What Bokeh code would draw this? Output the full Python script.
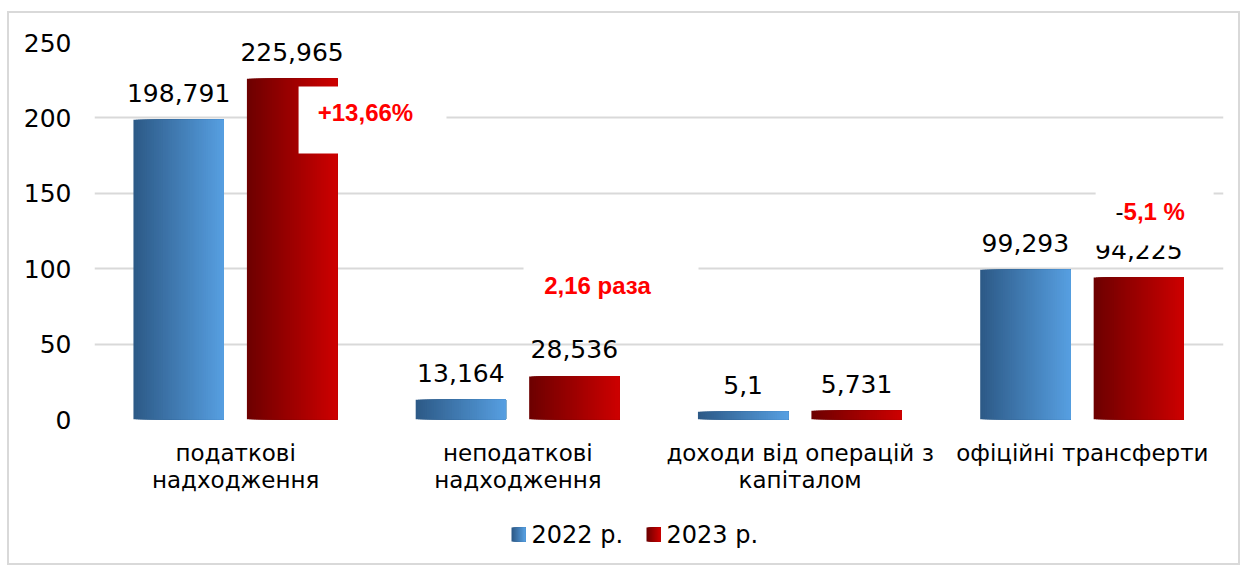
import numpy as np
from bokeh.plotting import figure
from bokeh.layouts import column
from bokeh.models import (ColumnDataSource, FixedTicker, Label, BoxAnnotation, Range1d)
from bokeh.embed import file_html
from bokeh.resources import INLINE
from bokeh.core.properties import value

# ---------------- data ----------------
categories = ["податкові\nнадходження", "неподаткові\nнадходження",
              "доходи від операцій з\nкапіталом", "офіційні трансферти"]
series_names = ["2022 р.", "2023 р."]
values_2022 = [198.791, 13.164, 5.1, 99.293]
values_2023 = [225.965, 28.536, 5.731, 94.225]
labels_2022 = ["198,791", "13,164", "5,1", "99,293"]
labels_2023 = ["225,965", "28,536", "5,731", "94,225"]
y_ticks = [0, 50, 100, 150, 200, 250]
annotations = ["+13,66%", "2,16 раза", "-", "5,1 %"]

FONT = "DejaVu Sans"
BOLD_FONT = "Liberation Sans"
BLUE = ("#2d5a87", "#569ee0")
RED = ("#6e0000", "#cc0000")

W = 1229
BL, BR = 85, 15   # frame borders (px)
p = figure(width=W, height=500, output_backend="svg", toolbar_location=None,
           x_range=Range1d(0, len(categories)), y_range=Range1d(0, 250),
           min_border_left=BL, min_border_right=BR, min_border_top=29,
           min_border_bottom=94)
p.outline_line_color = None
p.background_fill_color = "white"
p.border_fill_color = "white"

# grid
p.xgrid.grid_line_color = None
p.ygrid.grid_line_color = "#d9d9d9"
p.ygrid.grid_line_width = 2
p.ygrid.ticker = FixedTicker(ticks=y_ticks)

# axes
p.yaxis.ticker = FixedTicker(ticks=y_ticks)
p.yaxis.axis_line_color = None
p.yaxis.major_tick_line_color = None
p.yaxis.minor_tick_line_color = None
p.yaxis.major_label_standoff = 17
p.yaxis.major_label_text_font = FONT
p.yaxis.major_label_text_font_size = "25px"
p.yaxis.major_label_text_color = "#000000"

centers = [i + 0.5 for i in range(len(categories))]
p.xaxis.ticker = FixedTicker(ticks=centers)
p.xaxis.major_label_overrides = {c: lab for c, lab in zip(centers, categories)}
p.xaxis.axis_line_color = None
p.xaxis.major_tick_line_color = None
p.xaxis.minor_tick_line_color = None
p.xaxis.major_label_standoff = 14
p.xaxis.major_label_text_font = FONT
p.xaxis.major_label_text_font_size = "23px"
p.xaxis.major_label_text_color = "#000000"
p.xaxis.major_label_text_line_height = 1.05

BAR_W = 0.32
OFFSETS = [-0.202, 0.2]
N = 40


def lerp_hex(c0, c1, t):
    a = np.array([int(c0[i:i + 2], 16) for i in (1, 3, 5)], float)
    b = np.array([int(c1[i:i + 2], 16) for i in (1, 3, 5)], float)
    c = np.round(a + (b - a) * t).astype(int)
    return "#%02x%02x%02x" % tuple(c)


def gradient_quads(fig, lefts0, widths, bottoms, tops, colors, n=N):
    L, R, B, T, C = [], [], [], [], []
    for j in range(n):
        for l0, w, b, t in zip(lefts0, widths, bottoms, tops):
            L.append(l0 + j * w / n)
            R.append(l0 + w)
            B.append(b)
            T.append(t)
            C.append(lerp_hex(colors[0], colors[1], j / max(n - 1, 1)))
    src = ColumnDataSource(dict(left=L, right=R, bottom=B, top=T, color=C))
    fig.quad(left="left", right="right", top="top", bottom="bottom",
             fill_color="color", line_color=None, source=src)


for vals, off, cols in ((values_2022, OFFSETS[0], BLUE), (values_2023, OFFSETS[1], RED)):
    gradient_quads(p, [c + off - BAR_W / 2 for c in centers], [BAR_W] * len(vals),
                   [0] * len(vals), vals, cols)

# value labels
for vals, labs, off in ((values_2022, labels_2022, OFFSETS[0]),
                        (values_2023, labels_2023, OFFSETS[1])):
    src = ColumnDataSource(dict(x=[c + off for c in centers], y=vals, t=labs))
    p.text(x="x", y="y", text="t", source=src, text_align="center",
           text_baseline="alphabetic", y_offset=-27, text_font=value(FONT),
           text_font_size="25px", text_color="#000000")

# annotation boxes (white) and red texts
p.add_layout(BoxAnnotation(left=0.723, right=1.247, bottom=176.4, top=220.8,
                           fill_color="white", fill_alpha=1, line_color=None))
p.add_layout(BoxAnnotation(left=1.52, right=2.14, bottom=69, top=108.8,
                           fill_color="white", fill_alpha=1, line_color=None))
p.add_layout(BoxAnnotation(left=3.547, right=3.965, bottom=115.4, top=156.5,
                           fill_color="white", fill_alpha=1, line_color=None))


def red_label(x, y, text, color="#ff0000", align="center", style="bold"):
    p.add_layout(Label(x=x, y=y, text=text, text_align=align, text_baseline="middle",
                       text_font=BOLD_FONT, text_font_style=style,
                       text_font_size="24px", text_color=color))


red_label(0.96, 203.6, annotations[0])
red_label(1.782, 88.9, annotations[1])
red_label(3.646, 137.9, annotations[2], color="#000000", align="right", style="normal")
red_label(3.646, 137.9, annotations[3], align="left")

# ---------------- legend strip ----------------
LH = 50
lf = figure(width=W, height=LH, output_backend="svg", toolbar_location=None,
            x_range=Range1d(BL, W - BR), y_range=Range1d(0, LH),
            min_border_left=BL, min_border_right=BR, min_border_top=0,
            min_border_bottom=0, x_axis_type=None, y_axis_type=None)
lf.outline_line_color = None
lf.grid.visible = False
lf.background_fill_color = "white"
lf.border_fill_color = "white"
sq_left = [502, 637]
gradient_quads(lf, [sq_left[0]], [14], [22], [36], BLUE, n=14)
gradient_quads(lf, [sq_left[1]], [14], [22], [36], RED, n=14)
lf.text(x=[s + 20 for s in sq_left], y=[29, 29], text=series_names,
        text_align="left", text_baseline="middle", text_font=value(FONT),
        text_font_size="24px", text_color="#000000")

layout = column(p, lf, spacing=0)
layout.margin = (11, 0, 0, 7)
layout.styles = {"border": "2px solid #d9d9d9"}

open("out.html", "w").write(file_html(layout, INLINE))
